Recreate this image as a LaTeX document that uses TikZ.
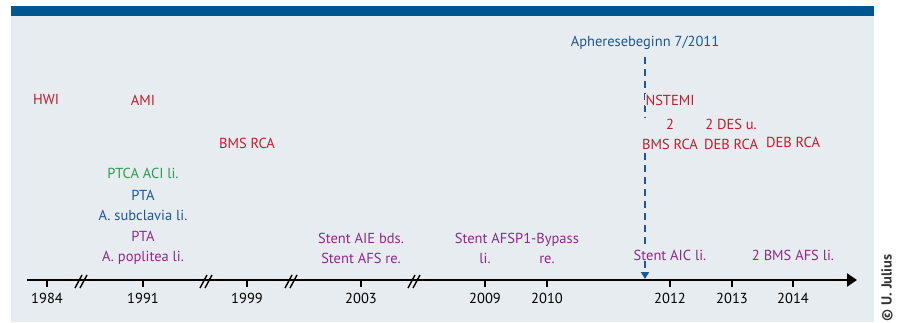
\documentclass[tikz,border=0pt]{standalone}
\usepackage{fontspec}
\setmainfont{PT Sans}
\usetikzlibrary{arrows.meta,positioning}

\definecolor{panelbg}{HTML}{E7ECF0}
\definecolor{bandblue}{HTML}{00578F}
\definecolor{evred}{HTML}{BE1E2D}
\definecolor{evgreen}{HTML}{2E9B4E}
\definecolor{evblue}{HTML}{1D5794}
\definecolor{evpurple}{HTML}{8B2B8B}

\tikzset{
  evlabel/.style={font=\fontsize{14.5}{20}\selectfont, align=center, inner sep=1pt},
  masked/.style={fill=panelbg},
  yearlabel/.style={font=\fontsize{14.5}{20}\selectfont, inner sep=0pt},
  brk/.style={line width=1.4pt},
}

\begin{document}
\begin{tikzpicture}[x=1pt,y=-1pt]
      \useasboundingbox (0,0) rectangle (901,322);
      \fill[panelbg] (11,6) rectangle (874,322);
      \fill[bandblue] (11,6) rectangle (874,16);
      % time axis
      \coordinate (axstart) at (27,280);
      \coordinate (axend) at (857,280);
      \draw[line width=2pt, -{Triangle[length=10pt,width=13pt]}] (axstart) -- (axend);
      \foreach \x/\yr in {47/1984, 143/1991, 247/1999, 361/2003, 485/2009,
                          547/2010, 670/2012, 732/2013, 793/2014} {
        \draw[line width=1.6pt] (\x,280) -- (\x,287);
        \node[yearlabel] (y\yr) at (\x,298) {\yr};
      }
      \foreach \x in {81,206,291,414} {
        \draw[brk] (\x-6,288) -- (\x+1,275);
        \draw[brk] (\x-1,288) -- (\x+6,275);
      }
      % start of apheresis
      \node[evlabel, text=evblue] (aph) at (645,43) {Apheresebeginn 7/2011};
      \coordinate (aphend) at (645,279);
      \draw[evblue, line width=1.8pt, dash pattern=on 7pt off 5pt, shorten <=6pt,
            -{Triangle[length=7pt,width=8pt]}] (aph) -- (aphend);
      % events
      \node[evlabel, text=evred] (hwi) at (46,100) {HWI};
      \node[evlabel, text=evred] (ami) at (143,100) {AMI};
      \node[evlabel, text=evred] (bms99) at (247,143) {BMS RCA};
      \node[evlabel, masked, text=evred] (nstemi) at (670,100) {NSTEMI};
      \node[evlabel, masked, text=evred] (bms12) at (670,134) {2\\BMS RCA};
      \node[evlabel, text=evred] (des13) at (731,134) {2 DES u.\\DEB RCA};
      \node[evlabel, text=evred] (deb14) at (793,142) {DEB RCA};
      \node[evlabel, text=evgreen] (ptca) at (143,173) {PTCA ACI li.};
      \node[evlabel, text=evblue] (ptasub) at (143,205.5) {PTA\\A. subclavia li.};
      \node[evlabel, text=evpurple] (ptapop) at (143,248) {PTA\\A. poplitea li.};
      \node[evlabel, text=evpurple] (stent03) at (361,248) {Stent AIE bds.\\Stent AFS re.};
      \node[evlabel, text=evpurple] (stent09) at (485,248) {Stent AFS\\li.};
      \node[evlabel, text=evpurple] (bypass) at (547,248) {P1-Bypass\\re.};
      \node[evlabel, masked, text=evpurple] (stent12) at (670,255) {Stent AIC li.};
      \node[evlabel, text=evpurple] (bms14) at (793,255) {2 BMS AFS li.};
      % credit
      \node[yearlabel, rotate=90, anchor=east, text=black!80] (credit) at (887,254) {\bfseries © U. Julius};
\end{tikzpicture}
\end{document}
